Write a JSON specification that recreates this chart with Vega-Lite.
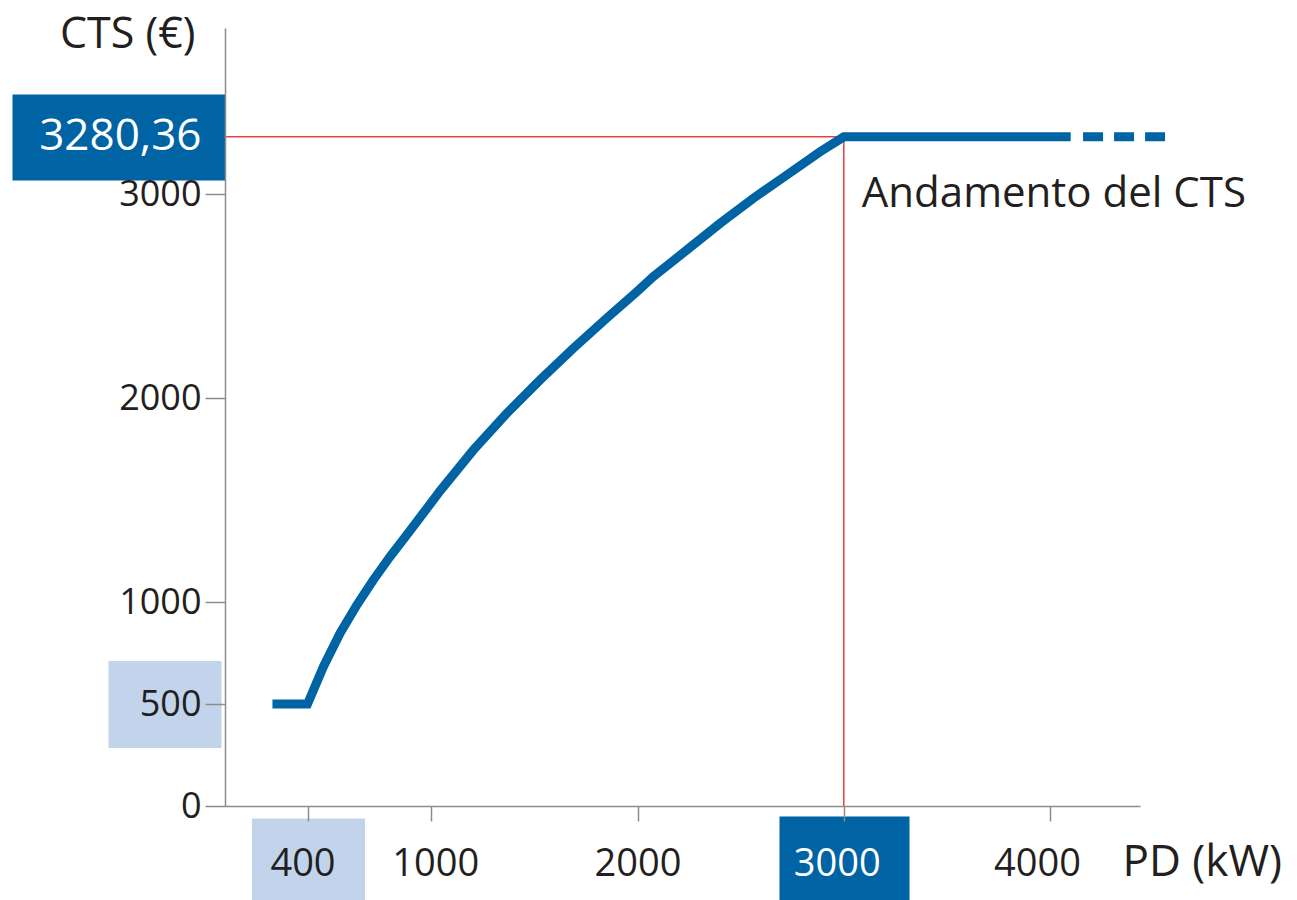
{
  "$schema": "https://vega.github.io/schema/vega-lite/v6.json",
  "autosize": {"type": "none"},
  "padding": {"left": 225, "top": 28, "right": 157, "bottom": 94},
  "width": 915,
  "height": 778,
  "background": "#ffffff",
  "config": {"view": {"stroke": null}, "font": "Open Sans"},
  "datasets": {
    "curve": [
      {"PD": 230, "CTS": 500},
      {"PD": 400, "CTS": 500},
      {"PD": 477, "CTS": 683},
      {"PD": 558, "CTS": 847},
      {"PD": 639, "CTS": 985},
      {"PD": 719, "CTS": 1108},
      {"PD": 800, "CTS": 1222},
      {"PD": 881, "CTS": 1328},
      {"PD": 961, "CTS": 1435},
      {"PD": 1042, "CTS": 1544},
      {"PD": 1204, "CTS": 1745},
      {"PD": 1366, "CTS": 1925},
      {"PD": 1527, "CTS": 2088},
      {"PD": 1689, "CTS": 2244},
      {"PD": 1850, "CTS": 2391},
      {"PD": 1996, "CTS": 2521},
      {"PD": 2076, "CTS": 2595},
      {"PD": 2238, "CTS": 2725},
      {"PD": 2400, "CTS": 2856},
      {"PD": 2561, "CTS": 2979},
      {"PD": 2723, "CTS": 3093},
      {"PD": 2885, "CTS": 3207},
      {"PD": 3000, "CTS": 3280.36},
      {"PD": 4100, "CTS": 3280.36}
    ],
    "extension": [
      {"PD": 4160, "CTS": 3280.36},
      {"PD": 4560, "CTS": 3280.36}
    ],
    "guide": [
      {"step": 1, "PD": 0, "CTS": 3280.36},
      {"step": 2, "PD": 3000, "CTS": 3280.36},
      {"step": 3, "PD": 3000, "CTS": 0}
    ],
    "marker": [
      {"PD": 3000, "CTS": 3280.36, "label": "Andamento del CTS"}
    ]
  },
  "layer": [
    {
      "data": {"name": "guide"},
      "mark": {"type": "line", "color": "#e8413f", "strokeWidth": 1.5, "strokeJoin": "miter"},
      "encoding": {
        "x": {"field": "PD", "type": "quantitative"},
        "y": {"field": "CTS", "type": "quantitative"},
        "order": {"field": "step", "type": "quantitative"}
      }
    },
    {
      "data": {"name": "curve"},
      "mark": {"type": "line", "color": "#0063a3", "strokeWidth": 9, "strokeCap": "butt", "strokeJoin": "miter"},
      "encoding": {
        "x": {
          "field": "PD", "type": "quantitative",
          "scale": {"domain": [0, 4436], "nice": false, "zero": false},
          "axis": {
            "title": "PD (kW)",
            "titleFont": "Open Sans", "titleFontSize": 44, "titleFontWeight": "normal", "titleColor": "#231f20",
            "titleAlign": "left", "titleBaseline": "alphabetic", "titleAngle": 0,
            "titleX": 897, "titleY": 69,
            "values": [400, 400.001, 1000, 2000, 3000, 3000.001, 4000],
            "format": "d",
            "labelExpr": "(datum.value == 400.001 || datum.value == 3000.001) ? '' : datum.label",
            "labelFont": "Open Sans", "labelFontSize": 38,
            "labelColor": {"condition": {"test": "datum.value == 3000", "value": "#ffffff"}, "value": "#231f20"},
            "labelOffset": {"condition": [{"test": "datum.value == 400", "value": -5}, {"test": "datum.value == 1000", "value": 4}, {"test": "datum.value == 3000", "value": -7}, {"test": "datum.value == 4000", "value": -13}], "value": 0},
            "labelBaseline": "alphabetic",
            "labelPadding": -25,
            "labelOverlap": false,
            "labelFlush": false,
            "tickSize": 94,
            "tickWidth": {"condition": [{"test": "datum.value == 400", "value": 113}, {"test": "datum.value == 3000", "value": 130}], "value": 1.5},
            "tickColor": {"condition": [{"test": "datum.value == 400", "value": "#c2d4eb"}, {"test": "datum.value == 3000", "value": "#0063a3"}], "value": "#8c8c8c"},
            "tickDash": {"condition": [{"test": "datum.value == 400", "value": [0, 12, 82, 10]}, {"test": "datum.value == 3000", "value": [0, 10, 84, 10]}], "value": [15, 200]},
            "domainColor": "#8c8c8c", "domainWidth": 1.5,
            "grid": false,
            "zindex": 1
          }
        },
        "y": {
          "field": "CTS", "type": "quantitative",
          "scale": {"domain": [0, 3814], "nice": false},
          "axis": {
            "title": "CTS (€)",
            "titleFont": "Open Sans", "titleFontSize": 43, "titleFontWeight": "normal", "titleColor": "#231f20",
            "titleAngle": 0, "titleAlign": "right", "titleBaseline": "alphabetic",
            "titleX": -30, "titleY": 19,
            "values": [0, 500, 500.001, 1000, 2000, 3000, 3280.36],
            "format": "d",
            "labelExpr": "datum.value == 3280.36 ? '3280,36' : (datum.value == 500.001 ? '' : datum.label)",
            "labelFont": "Open Sans",
            "labelFontSize": {"condition": {"test": "datum.value == 3280.36", "value": 44}, "value": 36},
            "labelColor": {"condition": {"test": "datum.value == 3280.36", "value": "#ffffff"}, "value": "#231f20"},
            "labelPadding": -189,
            "labelOverlap": false,
            "labelFlush": false,
            "tickSize": 213,
            "tickWidth": {"condition": [{"test": "datum.value == 3280.36", "value": 86}, {"test": "datum.value == 500", "value": 87}], "value": 1.5},
            "tickColor": {"condition": [{"test": "datum.value == 3280.36", "value": "#0063a3"}, {"test": "datum.value == 500", "value": "#c2d4eb"}], "value": "#8c8c8c"},
            "tickDash": {"condition": [{"test": "datum.value == 3280.36", "value": [400, 1]}, {"test": "datum.value == 500", "value": [0, 4, 113, 300]}], "value": [20, 400]},
            "domainColor": "#8c8c8c", "domainWidth": 1.5,
            "grid": false,
            "zindex": 1
          }
        }
      }
    },
    {
      "data": {"name": "extension"},
      "mark": {"type": "line", "color": "#0063a3", "strokeWidth": 9, "strokeCap": "butt", "strokeDash": [20, 11]},
      "encoding": {
        "x": {"field": "PD", "type": "quantitative"},
        "y": {"field": "CTS", "type": "quantitative"}
      }
    },
    {
      "data": {"name": "marker"},
      "mark": {"type": "text", "align": "left", "baseline": "alphabetic", "dx": 18, "dy": 70, "font": "Open Sans", "fontSize": 42, "color": "#231f20"},
      "encoding": {
        "x": {"field": "PD", "type": "quantitative"},
        "y": {"field": "CTS", "type": "quantitative"},
        "text": {"field": "label", "type": "nominal"}
      }
    }
  ]
}
